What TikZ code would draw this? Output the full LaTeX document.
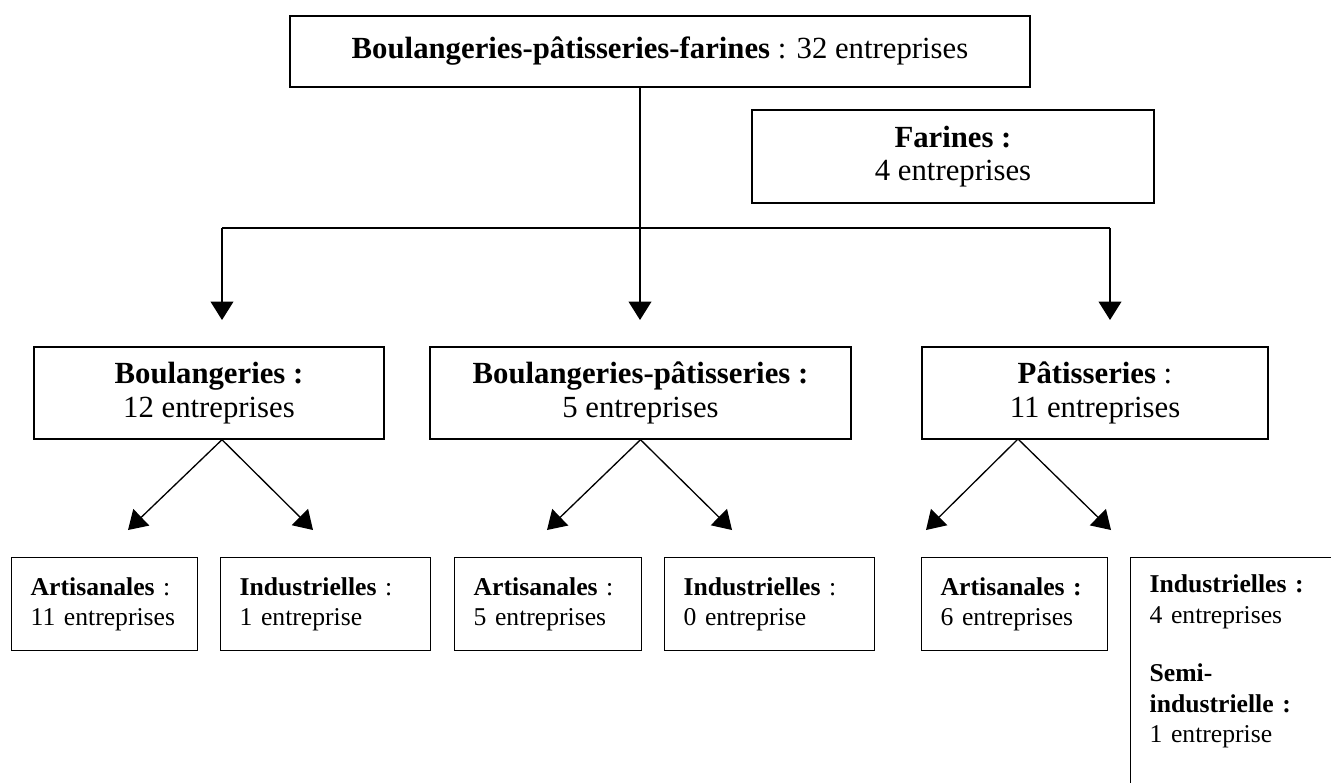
\documentclass[tikz,border=0pt]{standalone}
\usepackage{fontspec}
\setmainfont{Liberation Serif}
\usetikzlibrary{arrows.meta}
\newdimen\px
\px=0.02cm

\begin{document}
\begin{tikzpicture}[x=0.02cm,y=-0.02cm]
	\tikzstyle{box}=[draw=black,line width=0.8pt,inner sep=0pt,align=center,font=\fontsize{17.5}{19}\selectfont]
	\tikzstyle{petit}=[draw=black,line width=0.8pt,inner ysep=0pt,inner xsep=19*\px,align=left,anchor=north west,minimum height=93*\px,font=\fontsize{14.6}{17}\selectfont]
	\tikzstyle{fleche}=[line width=0.75pt,-{Triangle[length=10.5pt,width=13pt]}]
	\useasboundingbox (0,0) rectangle (1331,782);
	\clip (0,0) rectangle (1331,782);
	% niveau 1
	\node[box,minimum width=740*\px,minimum height=71*\px](bpf) at (660,51.5) {\textbf{Boulangeries-pâtisseries-farines} : 32 entreprises};
	\node[box,minimum width=402*\px,minimum height=93*\px](far) at (953,156.5) {\textbf{Farines :}\\4 entreprises};
	% niveau 2
	\node[box,minimum width=350*\px,minimum height=92*\px](boul) at (209,393) {\textbf{Boulangeries :}\\12 entreprises};
	\node[box,minimum width=421*\px,minimum height=92*\px](bp) at (640.5,393) {\textbf{Boulangeries-pâtisseries :}\\5 entreprises};
	\node[box,minimum width=346*\px,minimum height=92*\px](pat) at (1095,393) {\textbf{Pâtisseries} :\\11 entreprises};
	% niveau 3
	\node[petit,text width=148*\px](a1) at (11,557) {\textbf{Artisanales} :\\11 entreprises};
	\node[petit,text width=172*\px](i1) at (220,557) {\textbf{Industrielles} :\\1 entreprise};
	\node[petit,text width=149*\px](a2) at (454,557) {\textbf{Artisanales} :\\5 entreprises};
	\node[petit,text width=172*\px](i2) at (664,557) {\textbf{Industrielles} :\\0 entreprise};
	\node[petit,text width=148*\px](a3) at (921,557) {\textbf{Artisanales :}\\6 entreprises};
	\node[petit,text width=260*\px,minimum height=0pt,inner ysep=17*\px,text depth=5cm,font=\fontsize{14.6}{17.4}\selectfont](i3) at (1130,557) {\textbf{Industrielles :}\\4 entreprises\\[16pt]\textbf{Semi-}\\\textbf{industrielle :}\\1 entreprise};
	% connecteurs
	\coordinate (j) at (640,228);
	\coordinate (jl) at (222,228);
	\coordinate (jr) at (1110,228);
	\coordinate (tl) at (222,320);
	\coordinate (tm) at (640,320);
	\coordinate (tr) at (1110,320);
	\draw[line width=0.75pt] (bpf.south -| j) -- (j);
	\draw[line width=0.75pt] (jl) -- (jr);
	\draw[fleche] (jl) -- (tl);
	\draw[fleche] (j) -- (tm);
	\draw[fleche] (jr) -- (tr);
	\coordinate (ap) at (1018,439);
	\coordinate (p1) at (128,530);
	\coordinate (p2) at (313,530);
	\coordinate (p3) at (547,530);
	\coordinate (p4) at (732,530);
	\coordinate (p5) at (926,530);
	\coordinate (p6) at (1111,530);
	\draw[fleche] (boul.south -| tl) -- (p1);
	\draw[fleche] (boul.south -| tl) -- (p2);
	\draw[fleche] (bp.south) -- (p3);
	\draw[fleche] (bp.south) -- (p4);
	\draw[fleche] (ap) -- (p5);
	\draw[fleche] (ap) -- (p6);
\end{tikzpicture}
\end{document}
